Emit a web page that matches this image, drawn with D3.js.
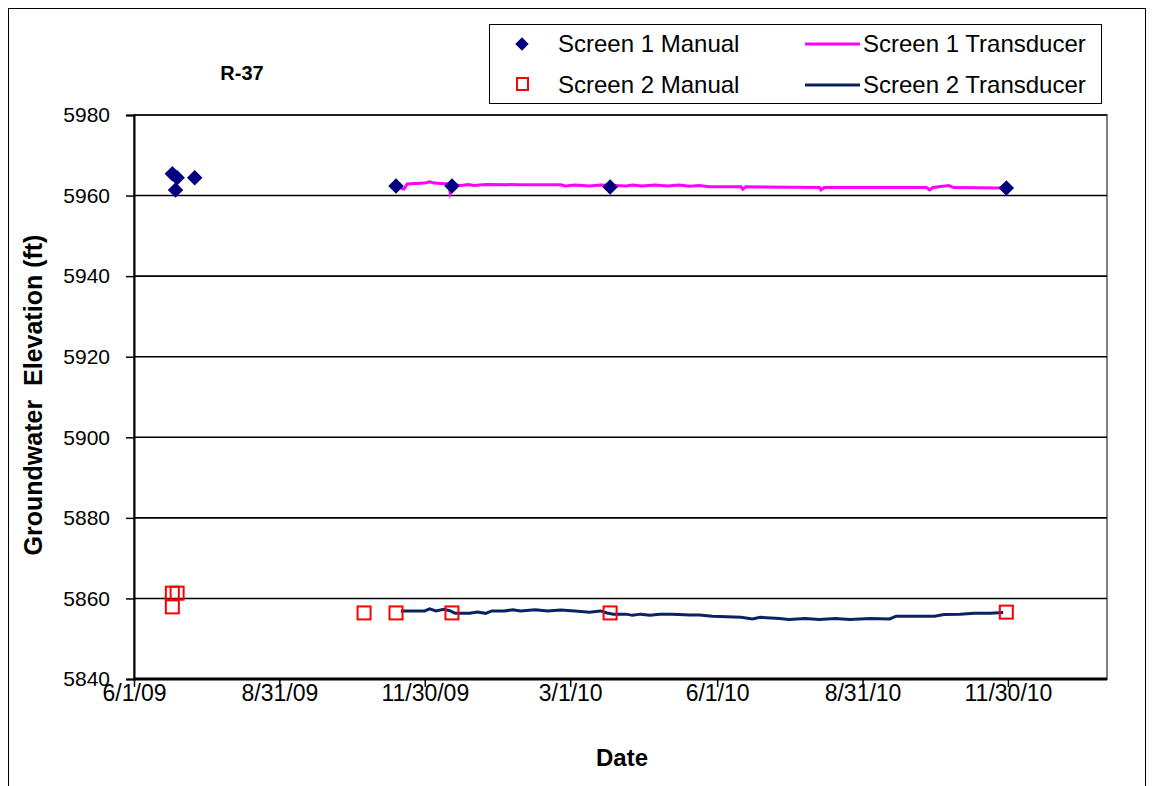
<!DOCTYPE html>
<html><head><meta charset="utf-8">
<script src="https://cdn.jsdelivr.net/npm/d3@7"></script>
<style>body{margin:0;background:#fff}svg{display:block;font-family:"Liberation Sans",Arial,sans-serif}</style>
</head><body>
<script>
const chartTitle = "R-37";
const tickLabels = ["6/1/09","8/31/09","11/30/09","3/1/10","6/1/10","8/31/10","11/30/10"];
const yTicks = [5840,5860,5880,5900,5920,5940,5960,5980];

const s1ManualDates = ["6/25/09","6/28/09","6/27/09","7/9/09","11/12/09","12/17/09","3/26/10","11/29/10"];
const s1ManualValues = [5965.4,5964.4,5961.4,5964.4,5962.4,5962.4,5962.1,5961.9];

const s2ManualDates = ["6/25/09","6/28/09","6/25/09","10/23/09","11/12/09","12/17/09","3/26/10","11/29/10"];
const s2ManualValues = [5861.3,5861.3,5857.9,5856.4,5856.4,5856.4,5856.4,5856.6];

const s1TransDates = ["11/15/09","11/17/09","11/19/09","11/24/09","11/30/09","12/3/09","12/6/09","12/10/09","12/15/09","12/16/09","12/18/09","12/23/09","12/27/09","12/31/09","1/7/10","1/29/10","2/23/10","2/26/10","3/4/10","3/13/10","3/20/10","3/28/10","4/5/10","4/9/10","4/15/10","4/23/10","5/1/10","5/8/10","5/15/10","5/21/10","5/27/10","6/16/10","6/17/10","6/19/10","8/4/10","8/5/10","8/7/10","10/10/10","10/12/10","10/14/10","10/24/10","10/27/10","11/27/10"];
const s1TransValues = [5961.8,5961.6,5962.9,5963.0,5963.1,5963.4,5963.1,5963.0,5962.9,5960.6,5962.6,5962.5,5962.75,5962.5,5962.75,5962.7,5962.7,5962.4,5962.6,5962.4,5962.6,5962.5,5962.4,5962.6,5962.4,5962.6,5962.4,5962.6,5962.3,5962.5,5962.2,5962.2,5961.6,5962.2,5962.0,5961.4,5962.0,5962.0,5961.4,5962.0,5962.5,5962.0,5961.9];

const s2TransDates = ["11/15/09","11/30/09","12/3/09","12/7/09","12/12/09","12/16/09","12/19/09","12/28/09","1/2/10","1/7/10","1/11/10","1/19/10","1/24/10","1/29/10","2/7/10","2/15/10","2/23/10","3/4/10","3/13/10","3/20/10","3/24/10","3/28/10","4/5/10","4/9/10","4/14/10","4/20/10","4/26/10","5/4/10","5/15/10","5/21/10","5/29/10","6/16/10","6/23/10","6/28/10","7/10/10","7/16/10","7/26/10","8/4/10","8/14/10","8/23/10","9/5/10","9/17/10","9/21/10","9/27/10","10/15/10","10/21/10","10/31/10","11/9/10","11/19/10","11/27/10"];
const s2TransValues = [5856.9,5856.9,5857.4,5856.9,5857.3,5856.9,5856.3,5856.3,5856.6,5856.3,5856.9,5856.9,5857.2,5856.9,5857.2,5856.9,5857.1,5856.9,5856.6,5856.9,5856.4,5856.1,5856.1,5855.8,5856.1,5855.8,5856.1,5856.1,5855.9,5855.9,5855.6,5855.3,5854.9,5855.3,5855.0,5854.8,5855.0,5854.8,5855.0,5854.8,5855.0,5854.9,5855.6,5855.6,5855.6,5856.0,5856.1,5856.3,5856.3,5856.5];

const xDomain = ["6/1/09","1/31/11"];
const yDomain = [5840,5980];

const W = 1154, H = 786;
const parse = d3.utcParse("%m/%d/%y");
const fmt = d => (d.getUTCMonth()+1)+"/"+d.getUTCDate()+"/"+String(d.getUTCFullYear()).slice(2);

const svg = d3.select("body").append("svg").attr("width",W).attr("height",H);
svg.append("rect").attr("width",W).attr("height",H).attr("fill","#fff");
svg.append("rect").attr("x",8.5).attr("y",8.5).attr("width",1137).attr("height",800)
  .attr("fill","none").attr("stroke","#000").attr("stroke-width",1);

const L=134, R=1107, T=115, B=679;
const x = d3.scaleUtc().domain(xDomain.map(parse)).range([L,R]);
const y = d3.scaleLinear().domain(yDomain).range([B,T]);

svg.append("rect").attr("x",L).attr("y",T).attr("width",R-L).attr("height",B-T)
  .attr("fill","none").attr("stroke","#808080").attr("stroke-width",2);

svg.append("g").selectAll("line").data(yTicks.slice(1)).join("line")
  .attr("x1",L).attr("x2",R).attr("y1",d=>y(d)).attr("y2",d=>y(d))
  .attr("stroke","#000").attr("stroke-width",1.6);

const yAxis = svg.append("g").attr("transform",`translate(${L},0)`)
  .call(d3.axisLeft(y).tickValues(yTicks).tickSize(8).tickPadding(16).tickFormat(d3.format("d")));
yAxis.select(".domain").attr("stroke","#000").attr("stroke-width",2);
yAxis.selectAll(".tick line").attr("stroke","#000").attr("stroke-width",1.5);
yAxis.selectAll("text").attr("font-size",21).attr("fill","#000").attr("font-family","Liberation Sans, Arial, sans-serif");

const xAxis = svg.append("g").attr("transform",`translate(0,${B})`)
  .call(d3.axisBottom(x).tickValues(tickLabels.map(parse)).tickSize(8).tickFormat(fmt));
xAxis.select(".domain").attr("stroke","#000").attr("stroke-width",3).attr("d",`M${L},0H${R}`);
xAxis.selectAll(".tick line").attr("stroke","#000").attr("stroke-width",1.5);
xAxis.selectAll("text").attr("font-size",23).attr("fill","#000").attr("y",22).attr("dy",null)
  .attr("font-family","Liberation Sans, Arial, sans-serif");

const line = d3.line().x(d=>x(d[0])).y(d=>y(d[1]));
const s1T = s1TransDates.map((d,i)=>[parse(d),s1TransValues[i]]);
const s2T = s2TransDates.map((d,i)=>[parse(d),s2TransValues[i]]);
svg.append("path").datum(s1T).attr("d",line).attr("fill","none").attr("stroke","#FF00FF").attr("stroke-width",3);
svg.append("path").datum(s2T).attr("d",line).attr("fill","none").attr("stroke","#0a2263").attr("stroke-width",3);

const diamond = d3.symbol().type(d3.symbolSquare).size(120);
svg.append("g").selectAll("path").data(s1ManualDates.map((d,i)=>[parse(d),s1ManualValues[i]])).join("path")
  .attr("d",diamond()).attr("transform",d=>`translate(${x(d[0])},${y(d[1])}) rotate(45)`)
  .attr("fill","#000080");
svg.append("g").selectAll("rect").data(s2ManualDates.map((d,i)=>[parse(d),s2ManualValues[i]])).join("rect")
  .attr("x",d=>x(d[0])-6.5).attr("y",d=>y(d[1])-6.5).attr("width",13).attr("height",13)
  .attr("fill","none").attr("stroke","#FF0000").attr("stroke-width",2);

svg.append("text").attr("x",242).attr("y",80).attr("text-anchor","middle")
  .attr("font-weight","bold").attr("font-size",20).text(chartTitle);
svg.append("text").attr("x",622).attr("y",766).attr("text-anchor","middle")
  .attr("font-weight","bold").attr("font-size",24).text("Date");
svg.append("text").attr("transform","translate(42,395) rotate(-90)").attr("text-anchor","middle")
  .attr("font-weight","bold").attr("font-size",25).style("white-space","pre")
  .text("Groundwater  Elevation (ft)");

const lg = svg.append("g");
lg.append("rect").attr("x",489.5).attr("y",24.5).attr("width",612).attr("height",79)
  .attr("fill","#fff").attr("stroke","#000").attr("stroke-width",1);
lg.append("path").attr("d",d3.symbol().type(d3.symbolSquare).size(90)())
  .attr("transform","translate(522,44) rotate(45)").attr("fill","#000080");
lg.append("rect").attr("x",517).attr("y",78).attr("width",11).attr("height",12)
  .attr("fill","none").attr("stroke","#FF0000").attr("stroke-width",2);
lg.append("line").attr("x1",805).attr("x2",860).attr("y1",44).attr("y2",44).attr("stroke","#FF00FF").attr("stroke-width",3);
lg.append("line").attr("x1",805).attr("x2",860).attr("y1",85).attr("y2",85).attr("stroke","#0a2263").attr("stroke-width",3);
const legTexts = [["Screen 1 Manual",558,52],["Screen 2 Manual",558,93],["Screen 1 Transducer",863,52],["Screen 2 Transducer",863,93]];
lg.selectAll("text").data(legTexts).join("text").attr("x",d=>d[1]).attr("y",d=>d[2])
  .attr("font-size",24).text(d=>d[0]);
</script>
</body></html>
